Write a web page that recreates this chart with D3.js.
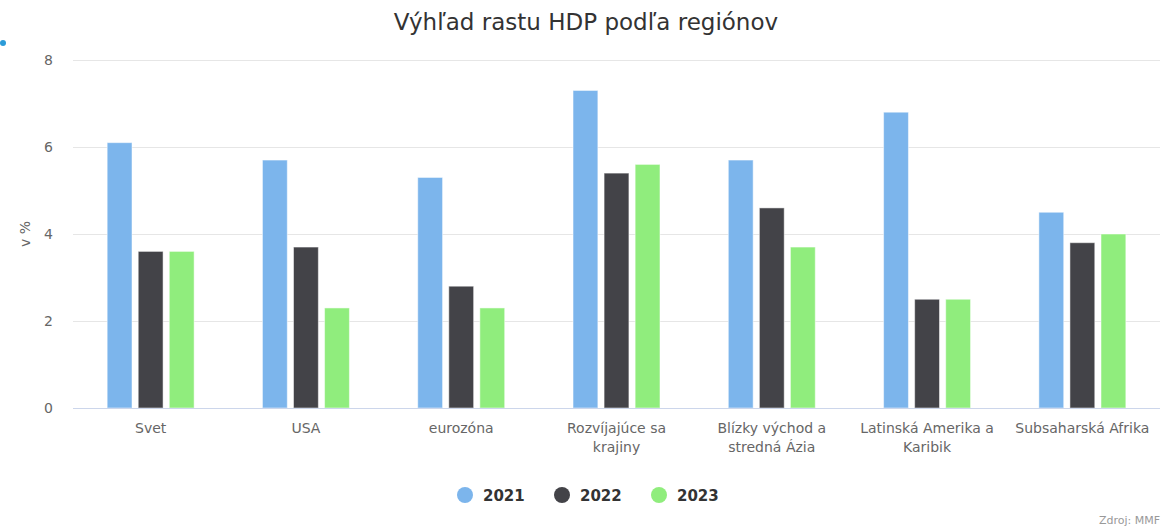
<!DOCTYPE html>
<html>
<head>
<meta charset="utf-8">
<script src="https://cdn.jsdelivr.net/npm/d3@7"></script>
<style>
  body { margin: 0; background: #fff; }
  svg { display: block; font-family: "DejaVu Sans", "Lucida Grande", sans-serif; }
</style>
</head>
<body>
<svg id="chart" width="1172" height="532"></svg>
<script>
// data
const categories = [
  "Svet",
  "USA",
  "eurozóna",
  "Rozvíjajúce sa krajiny",
  "Blízky východ a stredná Ázia",
  "Latinská Amerika a Karibik",
  "Subsaharská Afrika"
];
const labelLines = [
  ["Svet"],
  ["USA"],
  ["eurozóna"],
  ["Rozvíjajúce sa", "krajiny"],
  ["Blízky východ a", "stredná Ázia"],
  ["Latinská Amerika a", "Karibik"],
  ["Subsaharská Afrika"]
];
const seriesNames = ["2021", "2022", "2023"];
const values2021 = [6.1, 5.7, 5.3, 7.3, 5.7, 6.8, 4.5];
const values2022 = [3.6, 3.7, 2.8, 5.4, 4.6, 2.5, 3.8];
const values2023 = [3.6, 2.3, 2.3, 5.6, 3.7, 2.5, 4.0];
const yTicks = [0, 2, 4, 6, 8];
const colors = ["#7cb5ec", "#434348", "#90ed7d"];

const allSeries = [values2021, values2022, values2023];

const svg = d3.select("#chart");
const margin = { left: 73, right: 12, top: 60, bottom: 124 };
const W = 1172, H = 532;

const x = d3.scaleBand()
  .domain(categories)
  .range([margin.left, W - margin.right])
  .paddingInner(0)
  .paddingOuter(0);

const y = d3.scaleLinear()
  .domain([0, 8])
  .range([H - margin.bottom, margin.top]);

// inner group scale (highcharts-ish group padding 0.2)
const xs = d3.scaleBand()
  .domain(seriesNames)
  .range([x.bandwidth() * 0.2, x.bandwidth() * 0.8])
  .paddingInner(0.2)
  .paddingOuter(0.1);

// stray dot top-left
svg.append("circle").attr("cx", 3).attr("cy", 43).attr("r", 3).attr("fill", "#2b9bd8");

// title
svg.append("text")
  .attr("x", W / 2)
  .attr("y", 30)
  .attr("text-anchor", "middle")
  .attr("font-size", "23px")
  .attr("fill", "#333333")
  .text("Výhľad rastu HDP podľa regiónov");

// grid
svg.append("g")
  .selectAll("line")
  .data(yTicks.filter(d => d !== 0))
  .join("line")
  .attr("x1", margin.left)
  .attr("x2", W - margin.right)
  .attr("y1", d => Math.round(y(d)) + 0.5)
  .attr("y2", d => Math.round(y(d)) + 0.5)
  .attr("stroke", "#e6e6e6");

// y axis labels
const yAxis = d3.axisLeft(y).tickValues(yTicks).tickSize(0).tickPadding(0);
const gy = svg.append("g")
  .attr("transform", "translate(" + (margin.left - 20) + ",0)")
  .call(yAxis);
gy.select(".domain").remove();
gy.selectAll("text")
  .attr("font-size", "14px")
  .attr("fill", "#666666")
  .attr("font-family", "DejaVu Sans, sans-serif");

// y title
svg.append("text")
  .attr("transform", "translate(30," + y(4) + ") rotate(-90)")
  .attr("text-anchor", "middle")
  .attr("font-size", "14px")
  .attr("fill", "#666666")
  .text("v %");

// bars
const groups = svg.append("g")
  .selectAll("g")
  .data(categories)
  .join("g")
  .attr("transform", d => "translate(" + x(d) + ",0)");

groups.selectAll("rect")
  .data((c, i) => allSeries.map((s, k) => ({ name: seriesNames[k], value: s[i], k: k })))
  .join("rect")
  .attr("x", d => xs(d.name))
  .attr("width", xs.bandwidth())
  .attr("y", d => y(d.value))
  .attr("height", d => y(0) - y(d.value))
  .attr("fill", d => colors[d.k])
  .attr("stroke", "#ffffff")
  .attr("stroke-opacity", 0.5)
  .attr("stroke-width", 1);

// x axis line
svg.append("line")
  .attr("x1", margin.left)
  .attr("x2", W - margin.right)
  .attr("y1", y(0) + 0.5)
  .attr("y2", y(0) + 0.5)
  .attr("stroke", "#ccd6eb");

// x labels
const xl = svg.append("g")
  .selectAll("text")
  .data(categories)
  .join("text")
  .attr("x", d => x(d) + x.bandwidth() / 2)
  .attr("y", y(0) + 25)
  .attr("text-anchor", "middle")
  .attr("font-size", "14px")
  .attr("fill", "#666666");
xl.each(function(d, i) {
  d3.select(this).selectAll("tspan")
    .data(labelLines[i])
    .join("tspan")
    .attr("x", x(d) + x.bandwidth() / 2)
    .attr("dy", (t, j) => j === 0 ? 0 : 19)
    .text(t => t);
});

// legend
const legendX = [465, 562, 659];
const lg = svg.append("g")
  .selectAll("g")
  .data(seriesNames)
  .join("g")
  .attr("transform", (d, i) => "translate(" + legendX[i] + ",495)");
lg.append("circle").attr("r", 8).attr("fill", (d, i) => colors[i]);
lg.append("text")
  .attr("x", 18)
  .attr("y", 6)
  .attr("font-size", "15px")
  .attr("font-weight", "bold")
  .attr("fill", "#333333")
  .text(d => d);

// credits
svg.append("text")
  .attr("x", W - 12)
  .attr("y", 524)
  .attr("text-anchor", "end")
  .attr("font-size", "11px")
  .attr("fill", "#999999")
  .text("Zdroj: MMF");
</script>
</body>
</html>
